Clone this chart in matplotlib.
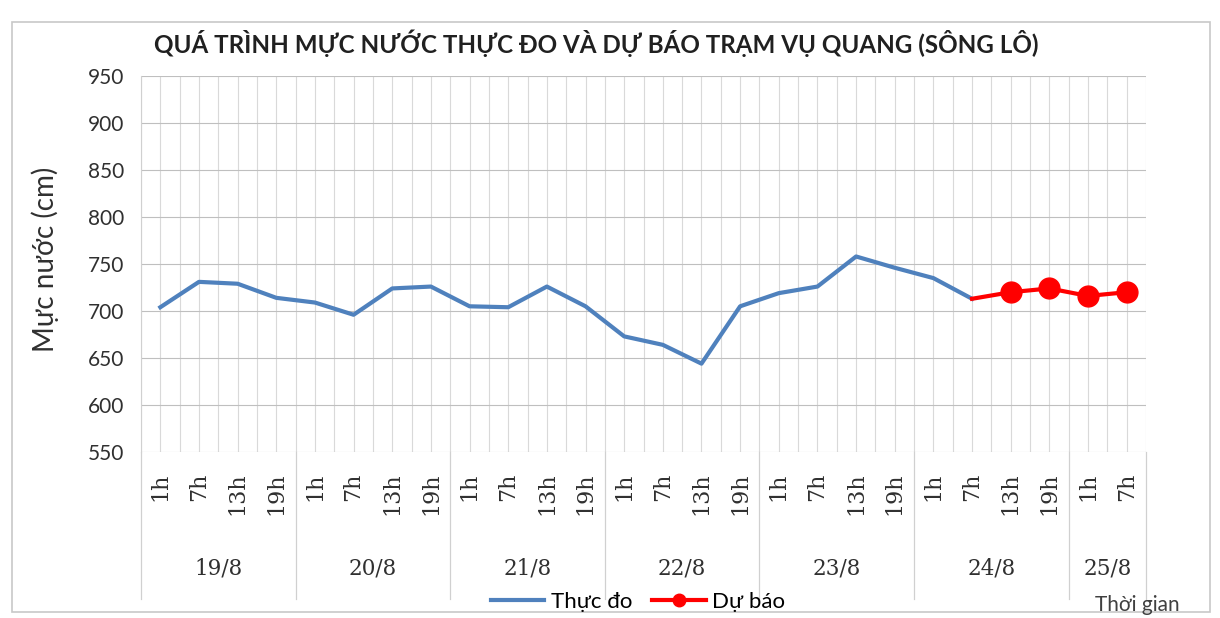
import matplotlib
matplotlib.use("Agg")
import matplotlib.pyplot as plt
from matplotlib.lines import Line2D
import matplotlib.patches as patches

plt.rcParams['font.family'] = ['Lato', 'DejaVu Sans']

# ---- data ----
hours = ["1h", "7h", "13h", "19h"] * 6 + ["1h", "7h"]
days = ["19/8", "20/8", "21/8", "22/8", "23/8", "24/8", "25/8"]
day_sizes = [4, 4, 4, 4, 4, 4, 2]
observed = [704, 731, 729, 714,
            709, 696, 724, 726,
            705, 704, 726, 705,
            673, 664, 644, 705,
            719, 726, 758, 746,
            735, 713]
forecast_start = 21
forecast = [713, 720, 724, 716, 720]
title = "QUÁ TRÌNH MỰC NƯỚC THỰC ĐO VÀ DỰ BÁO TRẠM VỤ QUANG (SÔNG LÔ)"
ylabel = "Mực nước (cm)"
xlabel = "Thời gian"
yticks = [550, 600, 650, 700, 750, 800, 850, 900, 950]

W, H = 1220, 618
fig = plt.figure(figsize=(W / 100, H / 100), dpi=100)
fig.patch.set_facecolor("white")

# outer chart border
fig.add_artist(patches.Rectangle((12 / W, 6 / H), 1198 / W, 590 / H,
                                 transform=fig.transFigure, fill=False,
                                 edgecolor="#c8c8c8", linewidth=1.2))

left, right, top, bottom = 141, 1146, 76, 452
ax = fig.add_axes([left / W, 1 - bottom / H, (right - left) / W, (bottom - top) / H])

n = len(hours)
x = list(range(n))
ax.set_xlim(-0.5, n - 0.5)
ax.set_ylim(550, 950)
ax.set_yticks(yticks)
ax.set_yticklabels([str(v) for v in yticks], fontsize=15, color="#303030")
ax.tick_params(axis='y', length=0, pad=12)
ax.set_xticks([])

# grid
ax.set_xticks([i * 0.5 - 0.5 for i in range(2 * n + 1)], minor=True)
ax.tick_params(axis='x', which='minor', length=0)
ax.grid(axis='x', which='minor', color="#d9d9d9", linewidth=0.8)
ax.grid(axis='y', which='major', color="#bfbfbf", linewidth=0.8)
ax.set_axisbelow(True)
for s in ["top", "right", "bottom"]:
    ax.spines[s].set_visible(False)
ax.spines["left"].set_color("#d0d0d0")

# series
ax.plot(x[:len(observed)], observed, color="#4F81BD", linewidth=3,
        solid_joinstyle="round", zorder=3)
fx = x[forecast_start:forecast_start + len(forecast)]
ax.plot(fx, forecast, color="#FF0000", linewidth=3, zorder=4)
ax.plot(fx[1:], forecast[1:], linestyle="none", marker="o", markersize=15,
        color="#FF0000", zorder=5)

# category axis labels
trans = ax.get_xaxis_transform()
for i, h in enumerate(hours):
    ax.text(i, -0.055, h, rotation=90, ha="center", va="top", fontsize=16,
            family="DejaVu Serif", color="#303030",
            transform=trans, clip_on=False)
pos = 0
bounds = [0]
for d, sz in zip(days, day_sizes):
    ax.text(pos + sz / 2 - 0.5, -0.31, d, ha="center", va="center", fontsize=15.5,
            family="DejaVu Serif", color="#303030",
            transform=trans, clip_on=False)
    pos += sz
    bounds.append(pos)
for b in bounds:
    ax.plot([b - 0.5, b - 0.5], [0, -0.39], color="#d0d0d0", linewidth=0.9,
            transform=trans, clip_on=False)

fig.text(45 / W, 1 - 259 / H, ylabel, rotation=90, ha="center", va="center",
         fontsize=20, color="#303030")

fig.text(596 / W, 1 - 43 / H, title, ha="center", va="center",
         fontsize=17.4, fontweight="bold", color="#202020")
fig.text(1137 / W, 1 - 605 / H, xlabel, ha="center", va="center", fontsize=15,
         color="#404040")

handles = [Line2D([], [], color="#4F81BD", linewidth=3),
           Line2D([], [], color="#FF0000", linewidth=3, marker="o", markersize=9)]
fig.legend(handles, ["Thực đo", "Dự báo"], loc="center", bbox_to_anchor=(638 / W, 1 - 602 / H),
           ncol=2, frameon=False, fontsize=16, handlelength=2.4, columnspacing=0.9,
           handletextpad=0.3, borderaxespad=0, borderpad=0)

fig.savefig("out.png", dpi=100, facecolor="white")
